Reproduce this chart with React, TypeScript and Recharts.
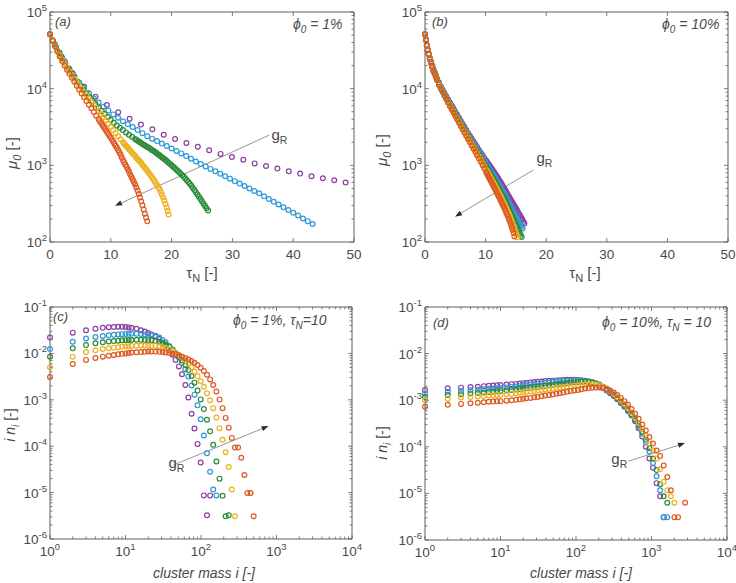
import React from 'react';
import { ScatterChart, Scatter, XAxis, YAxis, ReferenceArea, ReferenceLine } from 'recharts';

const FONT = '"Liberation Sans", Arial, Helvetica, sans-serif';
const INK = '#4a4a4a';
const FRAME = '#5e5e5e';

const PURPLE = '#8E3FA0';
const BLUE = '#2E98D8';
const GREEN = '#2A8C36';
const YELLOW = '#EDB224';
const ORANGE = '#DD5A22';

// ---- tick values ----
const tauTicks = [0, 10, 20, 30, 40, 50];
const muDecades = [100, 1000, 10000, 100000];
const massDecades = [1, 10, 100, 1000, 10000];
const inDecades = [1e-6, 1e-5, 1e-4, 1e-3, 1e-2, 1e-1];

// ---- (a) phi0 = 1% : mu0 vs tauN ----
const tauPurpleA = [0, 1.87, 3.74, 5.61, 7.48, 9.35, 11.22, 13.09, 14.96, 16.83, 18.7, 20.57, 22.44, 24.31, 26.18, 28.05, 29.92, 31.79, 33.66, 35.53, 37.4, 39.27, 41.14, 43.01, 44.88, 46.75, 48.62];
const muPurpleA = [51300, 26300, 15800, 10600, 7870, 6130, 4920, 4060, 3400, 2960, 2510, 2210, 1960, 1750, 1570, 1410, 1280, 1180, 1060, 982, 906, 838, 780, 721, 679, 640, 595];

const tauBlueA = [0, 0.8, 1.6, 2.4, 3.2, 4, 4.8, 5.6, 6.4, 7.2, 8, 8.8, 9.6, 10.4, 11.2, 12, 12.8, 13.6, 14.4, 15.2, 16, 16.8, 17.6, 18.4, 19.2, 20, 20.8, 21.6, 22.4, 23.2, 24, 24.8, 25.6, 26.4, 27.2, 28, 28.8, 29.6, 30.4, 31.2, 32, 32.8, 33.6, 34.4, 35.2, 36, 36.8, 37.6, 38.4, 39.2, 40, 40.8, 41.6, 42.4, 43.2];
const muBlueA = [51300, 38000, 29500, 22900, 18000, 14500, 12000, 10200, 8710, 7500, 6610, 5820, 5190, 4620, 4170, 3760, 3440, 3160, 2880, 2630, 2400, 2230, 2070, 1920, 1790, 1660, 1540, 1430, 1320, 1220, 1120, 1040, 968, 899, 836, 776, 721, 670, 622, 578, 537, 499, 463, 431, 394, 363, 334, 308, 283, 261, 240, 221, 203, 187, 172];

const tauGreenA = [0, 0.5, 1, 1.5, 2, 2.5, 3, 3.5, 4, 4.5, 5, 5.5, 6, 6.5, 7, 7.5, 8, 8.5, 9, 9.5, 10, 10.5, 11, 11.5, 12, 12.5, 13, 13.5,
  14, 14.25, 14.5, 14.75, 15, 15.25, 15.5, 15.75, 16, 16.25, 16.5, 16.75, 17, 17.25, 17.5, 17.75, 18, 18.25, 18.5, 18.75, 19, 19.25, 19.5, 19.75,
  20, 20.25, 20.5, 20.75, 21, 21.25, 21.5, 21.75, 22, 22.25, 22.5, 22.75, 23, 23.25, 23.5, 23.75, 24, 24.25, 24.5, 24.75, 25, 25.25, 25.5, 25.75, 26];
const muGreenA = [51300, 41700, 34700, 29500, 25100, 21600, 18600, 16200, 14100, 12400, 11000, 9770, 8710, 7760, 6920, 6240, 5620, 5130, 4680, 4270, 3890, 3590, 3310, 3090, 2880, 2690, 2510, 2360,
  2210, 2140, 2080, 2010, 1950, 1890, 1840, 1790, 1740, 1690, 1640, 1590, 1550, 1500, 1450, 1400, 1350, 1300, 1260, 1220, 1170, 1130, 1080, 1040,
  1000, 959, 923, 885, 851, 813, 776, 741, 708, 673, 638, 605, 575, 540, 507, 475, 447, 417, 389, 363, 339, 316, 295, 275, 257];

const tauYellowA = [0, 0.4, 0.8, 1.2, 1.6, 2, 2.4, 2.8, 3.2, 3.6, 4, 4.4, 4.8, 5.2, 5.6, 6, 6.4, 6.8, 7.2, 7.6, 8, 8.4, 8.8, 9.2, 9.6, 10, 10.4, 10.8, 11.2, 11.6,
  12, 12.2, 12.4, 12.6, 12.8, 13, 13.2, 13.4, 13.6, 13.8, 14, 14.2, 14.4, 14.6, 14.8, 15, 15.2, 15.4, 15.6, 15.8, 16, 16.2, 16.4, 16.6, 16.8, 17, 17.2, 17.4, 17.6, 17.8, 18, 18.2, 18.4, 18.6, 18.8, 19, 19.2, 19.35, 19.5];
const muYellowA = [51300, 43200, 36700, 31600, 27500, 24000, 21300, 18900, 16800, 15100, 13500, 12200, 11000, 9950, 9000, 8130, 7410, 6760, 6170, 5620, 5130, 4680, 4270, 3870, 3500, 3160, 2880, 2630, 2400, 2190,
  2000, 1910, 1840, 1760, 1690, 1620, 1560, 1490, 1430, 1370, 1320, 1260, 1210, 1160, 1120, 1070, 1020, 977, 933, 891, 851, 809, 769, 731, 695, 658, 622, 586, 552, 520, 490, 452, 417, 380, 347, 313, 282, 254, 229];

const tauOrangeA = [0, 0.4, 0.8, 1.2, 1.6, 2, 2.4, 2.8, 3.2, 3.6, 4, 4.4, 4.8, 5.2, 5.6, 6, 6.4, 6.8, 7.2, 7.6,
  8, 8.2, 8.4, 8.6, 8.8, 9, 9.2, 9.4, 9.6, 9.8, 10, 10.2, 10.4, 10.6, 10.8, 11, 11.2, 11.4, 11.6, 11.8, 12, 12.2, 12.4, 12.6, 12.8, 13, 13.2, 13.4, 13.6, 13.8, 14, 14.2, 14.4, 14.6, 14.8, 15, 15.2, 15.4, 15.6, 15.8, 16];
const muOrangeA = [51300, 42700, 35900, 30700, 26300, 22900, 20100, 17700, 15600, 13900, 12300, 10900, 9680, 8630, 7730, 6920, 6190, 5550, 4970, 4450,
  3980, 3770, 3560, 3370, 3190, 3020, 2860, 2700, 2560, 2420, 2290, 2160, 2030, 1910, 1800, 1690, 1580, 1480, 1380, 1270, 1170, 1100, 1020, 955, 891, 822, 759, 705, 653, 607, 562, 513, 468, 422, 380, 339, 302, 266, 234, 209, 186];

// ---- (b) phi0 = 10% : mu0 vs tauN (shared tau grid + denser late samples) ----
const tauB = [0, 0.15, 0.3, 0.45, 0.6, 0.8, 1, 1.2, 1.4, 1.6, 1.8, 2, 2.3, 2.6, 2.9, 3.2, 3.5, 3.8, 4.1, 4.4, 4.7, 5, 5.3, 5.6, 5.9, 6.2, 6.5, 6.8, 7.1, 7.4, 7.7, 8, 8.3, 8.6, 8.9, 9.2, 9.5, 9.8, 10.1, 10.4, 10.7, 11, 11.3, 11.6, 11.9, 12.2, 12.5, 12.8, 13.1, 13.4, 13.7, 14, 14.3, 14.6, 14.9, 15.2, 15.5, 15.8, 16.1, 16.4];
const muPurpleB = [51300, 43700, 37200, 32400, 28800, 25100, 22400, 20000, 17800, 16200, 14800, 13500, 12000, 10700, 9770, 8810, 7940, 7240, 6610, 6030, 5500, 5010, 4570, 4170, 3800, 3470, 3160, 2880, 2630, 2430, 2240, 2040, 1880, 1740, 1580, 1460, 1350, 1240, 1150, 1060, 977, 902, 832, 767, 708, 646, 596, 543, 495, 452, 407, 372, 339, 309, 282, 257, 234, 214, 193, 174];
const muBlueB = [51300, 43400, 36900, 32100, 28600, 24800, 22100, 19700, 17500, 16000, 14600, 13300, 11800, 10500, 9550, 8610, 7760, 7060, 6410, 5830, 5320, 4840, 4400, 4010, 3650, 3310, 3020, 2750, 2510, 2300, 2110, 1920, 1770, 1620, 1480, 1350, 1240, 1140, 1040, 955, 875, 804, 736, 675, 617, 560, 512, 463, 421, 379, 340, 306, 274, 243, 221, 200, 182, 166, 150, null];
const muGreenB = [51300, 43100, 36600, 31900, 28400, 24500, 21800, 19500, 17300, 15800, 14400, 13200, 11600, 10300, 9350, 8430, 7600, 6890, 6240, 5660, 5160, 4680, 4240, 3860, 3500, 3180, 2900, 2620, 2390, 2180, 2000, 1810, 1660, 1510, 1380, 1260, 1150, 1040, 951, 865, 789, 718, 655, 596, 540, 489, 443, 398, 359, 321, 286, 254, 223, 195, 174, 155, 138, 123, null, null];
const muYellowB = [51300, 42900, 36500, 31800, 28300, 24200, 21600, 19200, 17100, 15600, 14300, 13000, 11400, 10200, 9180, 8280, 7460, 6750, 6100, 5510, 5020, 4540, 4100, 3740, 3380, 3050, 2790, 2520, 2300, 2080, 1910, 1720, 1570, 1430, 1300, 1180, 1070, 968, 877, 794, 719, 653, 592, 536, 481, 435, 391, 350, 313, 278, 247, 217, 188, 158, 135, 115, null, null, null, null];
const muOrangeB = [51300, 42700, 36300, 31600, 28200, 24000, 21400, 19100, 17000, 15500, 14100, 12900, 11200, 10000, 9020, 8130, 7330, 6610, 5960, 5370, 4900, 4420, 3980, 3630, 3270, 2950, 2690, 2430, 2210, 2000, 1820, 1640, 1500, 1350, 1230, 1110, 1000, 902, 813, 733, 661, 596, 537, 484, 431, 389, 347, 309, 275, 243, 214, 186, 158, 132, null, null, null, null, null, null];

const tauB2 = [10.25, 10.55, 10.85, 11.15, 11.45, 11.75, 12.05, 12.35, 12.65, 12.95, 13.25, 13.55, 13.85, 14.15, 14.45, 14.75, 15.05, 15.35, 15.65, 15.95, 16.25];
const muPurpleB2 = [1100, 1020, 939, 866, 799, 737, 676, 620, 569, 518, 473, 429, 389, 355, 324, 295, 269, 245, 224, 203, 183];
const muBlueB2 = [997, 914, 839, 769, 705, 645, 588, 535, 487, 442, 399, 359, 323, 290, 258, 232, 210, 191, 174, 158, null];
const muGreenB2 = [907, 826, 753, 686, 625, 567, 514, 465, 420, 378, 339, 303, 270, 238, 209, 184, 164, 146, 130, 116, null];
const muYellowB2 = [834, 756, 685, 622, 563, 508, 457, 412, 370, 331, 295, 262, 232, 202, 173, 146, 125, null, null, null, null];
const muOrangeB2 = [772, 696, 628, 566, 510, 457, 409, 367, 327, 292, 259, 228, 200, 172, 145, 118, null, null, null, null, null];

// ---- (c) phi0 = 1%, tauN = 10 : i n_i vs cluster mass ----
const massC = [1, 2, 3, 4, 5, 6, 7, 8, 9, 10, 11, 12, 14, 16, 18, 20, 22, 25, 28, 31, 34, 38, 42, 46, 51, 56, 62, 68, 75, 82, 90, 99, 109, 120, 132, 145, 160, 176, 193, 212, 233, 256, 282, 310, 341, 375, 412, 453, 498];
const purpleC = [0.0219, 0.028, 0.0316, 0.0339, 0.0355, 0.0367, 0.0372, 0.0376, 0.0376, 0.0372, 0.0363, 0.0355, 0.0339, 0.0316, 0.0295, 0.0275, 0.0257, 0.0229, 0.0204, 0.017, 0.0145, 0.0117, 0.00933, 0.00724, 0.00525, 0.00355, 0.00209, 0.00112, 5.01e-4, 2.4e-4, 1.12e-4, 4.47e-5, 8.71e-6, 3.24e-6, 8.71e-6, null, null, null, null, null, null, null, null, null, null, null, null, null, null];
const blueC = [0.0124, 0.0178, 0.0209, 0.0226, 0.0237, 0.0245, 0.0251, 0.0257, 0.026, 0.0263, 0.0264, 0.0265, 0.0264, 0.0263, 0.0257, 0.0251, 0.0245, 0.024, 0.0219, 0.0195, 0.0174, 0.0145, 0.012, 0.01, 0.00813, 0.00631, 0.00457, 0.00316, 0.00204, 0.00129, 7.59e-4, 3.8e-4, 1.7e-4, 7.08e-5, 2.82e-5, 1.17e-5, 8.71e-6, null, null, null, null, null, null, null, null, null, null, null, null];
const greenC = [0.00851, 0.0129, 0.0151, 0.0166, 0.0174, 0.018, 0.0184, 0.0188, 0.0191, 0.0193, 0.0195, 0.0195, 0.0197, 0.0197, 0.0195, 0.0193, 0.0191, 0.0186, 0.0178, 0.0166, 0.0155, 0.0138, 0.012, 0.0102, 0.00851, 0.00708, 0.00562, 0.00437, 0.00324, 0.00234, 0.00158, 0.00102, 6.31e-4, 3.72e-4, 2.09e-4, 1.07e-4, 4.68e-5, 2.0e-5, 8.51e-6, 3.09e-6, 3.24e-6, null, null, null, null, null, null, null, null];
const yellowC = [0.00501, 0.00851, 0.0107, 0.0117, 0.0124, 0.0129, 0.0133, 0.0136, 0.014, 0.0141, 0.0143, 0.0145, 0.0146, 0.0148, 0.0148, 0.0148, 0.0146, 0.0145, 0.0141, 0.0136, 0.013, 0.0122, 0.0112, 0.0102, 0.00912, 0.00813, 0.00708, 0.00603, 0.00501, 0.00407, 0.00324, 0.00251, 0.00191, 0.00138, 9.77e-4, 6.61e-4, 4.17e-4, 2.45e-4, 1.38e-4, 7.41e-5, 3.55e-5, 1.17e-5, 3.09e-6, null, null, null, null, null, null];
const orangeC = [0.00309, 0.00589, 0.00724, 0.00794, 0.00851, 0.00891, 0.00923, 0.00955, 0.00977, 0.01, 0.0102, 0.0104, 0.0106, 0.0107, 0.0108, 0.011, 0.011, 0.011, 0.0108, 0.0107, 0.0105, 0.0102, 0.01, 0.00955, 0.00912, 0.00851, 0.00794, 0.00741, 0.00684, 0.00631, 0.00562, 0.0049, 0.00417, 0.00347, 0.00275, 0.00209, 0.00151, 0.00102, 6.61e-4, 4.07e-4, 2.51e-4, 1.51e-4, 9.33e-5, 9.33e-5, 5.62e-5, 2.4e-5, 9.77e-6, 9.77e-6, 3.09e-6];

// ---- (d) phi0 = 10%, tauN = 10 : i n_i vs cluster mass ----
const massD = [1, 2, 3, 4, 5, 6, 7, 8, 9, 10, 12, 14, 16, 18, 20, 22, 25, 28, 31, 35, 39, 44, 49, 55, 61, 68, 76, 85, 95, 106, 118, 132, 147, 164, 183, 204, 228, 254, 283, 316, 352, 393, 438, 488, 544, 607, 676, 754, 841, 938, 1046, 1167, 1301, 1451, 1618, 1805, 2013, 2245, 2504, 2793];
const purpleD = [1.66e-3, 1.8e-3, 1.86e-3, 1.91e-3, 1.95e-3, 2.0e-3, 2.04e-3, 2.07e-3, 2.09e-3, 2.11e-3, 2.16e-3, 2.21e-3, 2.24e-3, 2.29e-3, 2.32e-3, 2.34e-3, 2.4e-3, 2.45e-3, 2.48e-3, 2.51e-3, 2.57e-3, 2.6e-3, 2.63e-3, 2.66e-3, 2.69e-3, 2.72e-3, 2.75e-3, 2.75e-3, 2.75e-3, 2.72e-3, 2.69e-3, 2.63e-3, 2.51e-3, 2.4e-3, 2.24e-3, 2.04e-3, 1.82e-3, 1.62e-3, 1.41e-3, 1.23e-3, 1.05e-3, 8.71e-4, 7.24e-4, 5.89e-4, 4.68e-4, 3.55e-4, 2.51e-4, 1.66e-4, 1.0e-4, 5.62e-5, 3.55e-5, 1.66e-5, 8.71e-6, 3.09e-6, null, null, null, null, null, null];
const blueD = [1.38e-3, 1.51e-3, 1.58e-3, 1.64e-3, 1.68e-3, 1.72e-3, 1.76e-3, 1.78e-3, 1.8e-3, 1.82e-3, 1.88e-3, 1.93e-3, 1.97e-3, 2.0e-3, 2.04e-3, 2.09e-3, 2.14e-3, 2.19e-3, 2.24e-3, 2.29e-3, 2.34e-3, 2.4e-3, 2.45e-3, 2.51e-3, 2.54e-3, 2.57e-3, 2.6e-3, 2.63e-3, 2.66e-3, 2.66e-3, 2.63e-3, 2.6e-3, 2.51e-3, 2.4e-3, 2.26e-3, 2.09e-3, 1.91e-3, 1.7e-3, 1.48e-3, 1.29e-3, 1.1e-3, 9.12e-4, 7.59e-4, 6.17e-4, 4.9e-4, 3.72e-4, 2.69e-4, 1.91e-4, 1.26e-4, 7.94e-5, 4.47e-5, 2.34e-5, 1.17e-5, 3.09e-6, 3.09e-6, null, null, null, null, null];
const greenD = [1.17e-3, 1.29e-3, 1.35e-3, 1.4e-3, 1.43e-3, 1.46e-3, 1.5e-3, 1.51e-3, 1.55e-3, 1.57e-3, 1.62e-3, 1.66e-3, 1.7e-3, 1.74e-3, 1.78e-3, 1.82e-3, 1.86e-3, 1.91e-3, 1.95e-3, 2.0e-3, 2.04e-3, 2.09e-3, 2.14e-3, 2.19e-3, 2.24e-3, 2.29e-3, 2.34e-3, 2.4e-3, 2.43e-3, 2.45e-3, 2.48e-3, 2.51e-3, 2.48e-3, 2.43e-3, 2.32e-3, 2.16e-3, 1.95e-3, 1.74e-3, 1.51e-3, 1.32e-3, 1.12e-3, 9.33e-4, 7.76e-4, 6.31e-4, 5.01e-4, 3.89e-4, 2.88e-4, 2.09e-4, 1.41e-4, 9.33e-5, 5.62e-5, 3.16e-5, 1.58e-5, 8.71e-6, 6.31e-6, null, null, null, null, null];
const yellowD = [1.0e-3, 1.08e-3, 1.14e-3, 1.17e-3, 1.2e-3, 1.23e-3, 1.26e-3, 1.27e-3, 1.29e-3, 1.3e-3, 1.35e-3, 1.38e-3, 1.41e-3, 1.45e-3, 1.48e-3, 1.51e-3, 1.55e-3, 1.58e-3, 1.62e-3, 1.66e-3, 1.7e-3, 1.74e-3, 1.78e-3, 1.82e-3, 1.86e-3, 1.91e-3, 1.95e-3, 2.0e-3, 2.04e-3, 2.09e-3, 2.14e-3, 2.16e-3, 2.19e-3, 2.19e-3, 2.16e-3, 2.09e-3, 1.95e-3, 1.78e-3, 1.58e-3, 1.38e-3, 1.17e-3, 1.0e-3, 8.32e-4, 6.92e-4, 5.5e-4, 4.27e-4, 3.24e-4, 2.4e-4, 1.7e-4, 1.17e-4, 8.32e-5, 5.62e-5, 3.31e-5, 1.78e-5, 1.17e-5, 8.71e-6, 6.31e-6, null, null, null];
const orangeD = [7.24e-4, 7.94e-4, 8.32e-4, 8.61e-4, 8.81e-4, 9.02e-4, 9.23e-4, 9.33e-4, 9.44e-4, 9.55e-4, 9.77e-4, 1.0e-3, 1.02e-3, 1.05e-3, 1.07e-3, 1.1e-3, 1.12e-3, 1.15e-3, 1.17e-3, 1.22e-3, 1.26e-3, 1.29e-3, 1.33e-3, 1.38e-3, 1.41e-3, 1.46e-3, 1.51e-3, 1.57e-3, 1.62e-3, 1.66e-3, 1.72e-3, 1.78e-3, 1.82e-3, 1.86e-3, 1.88e-3, 1.88e-3, 1.84e-3, 1.74e-3, 1.62e-3, 1.46e-3, 1.29e-3, 1.12e-3, 9.55e-4, 7.94e-4, 6.46e-4, 5.13e-4, 3.98e-4, 3.02e-4, 2.24e-4, 1.62e-4, 1.17e-4, 8.32e-5, 6.31e-5, 3.98e-5, 2.24e-5, 1.17e-5, 3.09e-6, 3.09e-6, null, 6.31e-6];

// g_R arrows (tail -> head, data coordinates)
const arrowA = [{ x: 36.1, y: 2490 }, { x: 10.7, y: 296 }];
const arrowB = [{ x: 17.9, y: 871 }, { x: 4.95, y: 214 }];
const arrowC = [{ x: 43.2, y: 3.94e-5 }, { x: 786, y: 2.72e-4 }];
const arrowD = [{ x: 493, y: 4.9e-5 }, { x: 2780, y: 1.2e-4 }];

type Pt = { x: number; y: number };
type Box = { left: number; top: number; right: number; bottom: number };

const pts = (xs: number[], ys: (number | null)[]): Pt[] =>
  xs.map((x, i) => ({ x, y: ys[i] as number })).filter((p) => p.y != null);

function withMinor(decades: number[]) {
  const out: number[] = [];
  decades.forEach((d, i) => {
    out.push(d);
    if (i < decades.length - 1) for (let k = 2; k <= 9; k++) out.push(d * k);
  });
  return out;
}

const isDecade = (v: number) => Math.abs(Math.log10(v) - Math.round(Math.log10(v))) < 1e-6;

function Pow({ v }: { v: number }) {
  return (
    <>
      <tspan>10</tspan>
      <tspan dy={-6} fontSize={9.5}>{Math.round(Math.log10(v))}</tspan>
    </>
  );
}

function XTick(props: any) {
  const { x, payload, box, log } = props;
  const v = payload.value;
  const major = log ? isDecade(v) : true;
  const len = major ? 4 : 2.5;
  return (
    <g>
      <line x1={x} x2={x} y1={box.bottom} y2={box.bottom - len} stroke={FRAME} strokeWidth={0.8} />
      <line x1={x} x2={x} y1={box.top} y2={box.top + len} stroke={FRAME} strokeWidth={0.8} />
      {major && (
        <text x={x} y={box.bottom + 17} textAnchor="middle" fontFamily={FONT} fontSize={13.5} fill={INK}>
          {log ? <Pow v={v} /> : v}
        </text>
      )}
    </g>
  );
}

function YTick(props: any) {
  const { y, payload, box } = props;
  const v = payload.value;
  const major = isDecade(v);
  const len = major ? 4 : 2.5;
  return (
    <g>
      <line x1={box.left} x2={box.left + len} y1={y} y2={y} stroke={FRAME} strokeWidth={0.8} />
      <line x1={box.right} x2={box.right - len} y1={y} y2={y} stroke={FRAME} strokeWidth={0.8} />
      {major && (
        <text x={box.left - 3} y={y + 5} textAnchor="end" fontFamily={FONT} fontSize={13.5} fill={INK}>
          <Pow v={v} />
        </text>
      )}
    </g>
  );
}

const ring = (color: string) => (p: any) =>
  <circle cx={p.cx} cy={p.cy} r={2.4} fill="none" stroke={color} strokeWidth={1.2} />;

const arrowShape = (dx: number, dy: number) => (p: any) => {
  const { x1, y1, x2, y2 } = p;
  const a = Math.atan2(y2 - y1, x2 - x1);
  const L = 7;
  const W = 2.6;
  const bx = x2 - L * Math.cos(a);
  const by = y2 - L * Math.sin(a);
  const px = -Math.sin(a) * W;
  const py = Math.cos(a) * W;
  return (
    <g>
      <line x1={x1} y1={y1} x2={bx} y2={by} stroke="#8a8a8a" strokeWidth={0.9} />
      <polygon points={`${x2},${y2} ${bx + px},${by + py} ${bx - px},${by - py}`} fill="#2b2b2b" />
      <text x={x1 + dx} y={y1 + dy} fontFamily={FONT} fontSize={15} fill={INK}>
        g<tspan dy={4} fontSize={10.5}>R</tspan>
      </text>
    </g>
  );
};

interface Series { data: Pt[]; color: string }

interface PanelProps {
  left: number;
  top: number;
  width: number;
  height: number;
  box: Box;
  xDomain: [number, number];
  yDomain: [number, number];
  xLog: boolean;
  xTicks: number[];
  yTicks: number[];
  series: Series[];
  arrow: Pt[];
  label: [number, number];
}

function Panel({ left, top, width, height, box, xDomain, yDomain, xLog, xTicks, yTicks, series, arrow, label }: PanelProps) {
  return (
    <div style={{ position: 'absolute', left, top, width, height }}>
      <ScatterChart width={width} height={height} margin={{ top: box.top, right: width - box.right, bottom: 0, left: 0 }}>
        <XAxis
          type="number"
          dataKey="x"
          scale={xLog ? 'log' : 'linear'}
          domain={xDomain}
          ticks={xTicks}
          interval={0}
          height={height - box.bottom}
          axisLine={false}
          tickLine={false}
          tick={(p: any) => <XTick {...p} box={box} log={xLog} />}
        />
        <YAxis
          type="number"
          dataKey="y"
          scale="log"
          domain={yDomain}
          ticks={yTicks}
          interval={0}
          width={box.left}
          axisLine={false}
          tickLine={false}
          tick={(p: any) => <YTick {...p} box={box} />}
        />
        <ReferenceArea x1={xDomain[0]} x2={xDomain[1]} y1={yDomain[0]} y2={yDomain[1]} fill="none" stroke={FRAME} strokeWidth={1} fillOpacity={0} ifOverflow="visible" />
        {series.map((s, i) => (
          <Scatter key={i} data={s.data} shape={ring(s.color)} isAnimationActive={false} />
        ))}
        <ReferenceLine segment={arrow} shape={arrowShape(label[0], label[1])} ifOverflow="visible" />
      </ScatterChart>
    </div>
  );
}

const T = { fontFamily: FONT, fill: INK };

export default function App() {
  const muTicks = withMinor(muDecades);
  const massTicks = withMinor(massDecades);
  const inTicks = withMinor(inDecades);

  return (
    <div style={{ position: 'absolute', left: 0, top: 0, width: 736, height: 583, background: '#fff' }}>
      <Panel
        left={0} top={0} width={368} height={290}
        box={{ left: 50, top: 12, right: 354, bottom: 242 }}
        xDomain={[0, 50]} yDomain={[100, 100000]} xLog={false}
        xTicks={tauTicks} yTicks={muTicks}
        series={[
          { data: pts(tauPurpleA, muPurpleA), color: PURPLE },
          { data: pts(tauBlueA, muBlueA), color: BLUE },
          { data: pts(tauGreenA, muGreenA), color: GREEN },
          { data: pts(tauYellowA, muYellowA), color: YELLOW },
          { data: pts(tauOrangeA, muOrangeA), color: ORANGE },
        ]}
        arrow={arrowA} label={[2, 5]}
      />
      <Panel
        left={368} top={0} width={368} height={290}
        box={{ left: 57, top: 12, right: 360, bottom: 242 }}
        xDomain={[0, 50]} yDomain={[100, 100000]} xLog={false}
        xTicks={tauTicks} yTicks={muTicks}
        series={[
          { data: pts(tauB, muPurpleB).concat(pts(tauB2, muPurpleB2)), color: PURPLE },
          { data: pts(tauB, muBlueB).concat(pts(tauB2, muBlueB2)), color: BLUE },
          { data: pts(tauB, muGreenB).concat(pts(tauB2, muGreenB2)), color: GREEN },
          { data: pts(tauB, muYellowB).concat(pts(tauB2, muYellowB2)), color: YELLOW },
          { data: pts(tauB, muOrangeB).concat(pts(tauB2, muOrangeB2)), color: ORANGE },
        ]}
        arrow={arrowB} label={[3, -7]}
      />
      <Panel
        left={0} top={290} width={368} height={293}
        box={{ left: 50, top: 17, right: 352, bottom: 249 }}
        xDomain={[1, 10000]} yDomain={[1e-6, 0.1]} xLog
        xTicks={massTicks} yTicks={inTicks}
        series={[
          { data: pts(massC, purpleC), color: PURPLE },
          { data: pts(massC, blueC), color: BLUE },
          { data: pts(massC, greenC), color: GREEN },
          { data: pts(massC, yellowC), color: YELLOW },
          { data: pts(massC, orangeC), color: ORANGE },
        ]}
        arrow={arrowC} label={[-5, 3]}
      />
      <Panel
        left={368} top={290} width={368} height={293}
        box={{ left: 57, top: 17, right: 359, bottom: 250 }}
        xDomain={[1, 10000]} yDomain={[1e-6, 0.1]} xLog
        xTicks={massTicks} yTicks={inTicks}
        series={[
          { data: pts(massD, purpleD), color: PURPLE },
          { data: pts(massD, blueD), color: BLUE },
          { data: pts(massD, greenD), color: GREEN },
          { data: pts(massD, yellowD), color: YELLOW },
          { data: pts(massD, orangeD), color: ORANGE },
        ]}
        arrow={arrowD} label={[-17, 3]}
      />

      {/* annotations and axis titles */}
      <svg width={736} height={583} style={{ position: 'absolute', left: 0, top: 0, pointerEvents: 'none' }}>
        <text x={55} y={26} fontSize={13} fontStyle="italic" {...T}>(a)</text>
        <text x={293} y={29} fontSize={14} fontStyle="italic" {...T}>ϕ<tspan dy={4} fontSize={10}>0</tspan><tspan dy={-4}> = 1%</tspan></text>
        <text x={432} y={26} fontSize={13} fontStyle="italic" {...T}>(b)</text>
        <text x={662} y={29} fontSize={14} fontStyle="italic" {...T}>ϕ<tspan dy={4} fontSize={10}>0</tspan><tspan dy={-4}> = 10%</tspan></text>
        <text x={53} y={321} fontSize={13} fontStyle="italic" {...T}>(c)</text>
        <text x={233} y={325} fontSize={14} fontStyle="italic" {...T}>ϕ<tspan dy={4} fontSize={10}>0</tspan><tspan dy={-4}> = 1%, τ</tspan><tspan dy={4} fontSize={10}>N</tspan><tspan dy={-4}>=10</tspan></text>
        <text x={433} y={327} fontSize={13} fontStyle="italic" {...T}>(d)</text>
        <text x={602} y={327} fontSize={14} fontStyle="italic" {...T}>ϕ<tspan dy={4} fontSize={10}>0</tspan><tspan dy={-4}> = 10%, τ</tspan><tspan dy={4} fontSize={10}>N</tspan><tspan dy={-4}> = 10</tspan></text>

        <text x={202} y={278} textAnchor="middle" fontSize={15} {...T}>τ<tspan dy={4} fontSize={11}>N</tspan><tspan dy={-4}> [-]</tspan></text>
        <text x={585} y={278} textAnchor="middle" fontSize={15} {...T}>τ<tspan dy={4} fontSize={11}>N</tspan><tspan dy={-4}> [-]</tspan></text>
        <text x={204} y={578} textAnchor="middle" fontSize={14} fontStyle="italic" {...T}>cluster mass i  [-]</text>
        <text x={581} y={578} textAnchor="middle" fontSize={14} fontStyle="italic" {...T}>cluster mass i  [-]</text>

        <text transform="translate(17,153) rotate(-90)" textAnchor="middle" fontSize={15} {...T}><tspan fontStyle="italic">μ</tspan><tspan dy={4} fontSize={11} fontStyle="italic">0</tspan><tspan dy={-4}> [-]</tspan></text>
        <text transform="translate(387,150) rotate(-90)" textAnchor="middle" fontSize={15} {...T}><tspan fontStyle="italic">μ</tspan><tspan dy={4} fontSize={11} fontStyle="italic">0</tspan><tspan dy={-4}> [-]</tspan></text>
        <text transform="translate(15,425) rotate(-90)" textAnchor="middle" fontSize={14} {...T}><tspan fontStyle="italic">i n</tspan><tspan dy={4} fontSize={10} fontStyle="italic">i</tspan><tspan dy={-4}>  [-]</tspan></text>
        <text transform="translate(387,443) rotate(-90)" textAnchor="middle" fontSize={14} {...T}><tspan fontStyle="italic">i n</tspan><tspan dy={4} fontSize={10} fontStyle="italic">i</tspan><tspan dy={-4}>  [-]</tspan></text>
      </svg>
    </div>
  );
}
